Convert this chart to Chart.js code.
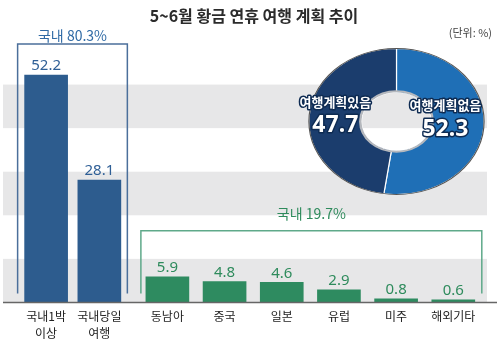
<!DOCTYPE html>
<html>
<head>
<meta charset="utf-8">
<script src="https://cdn.jsdelivr.net/npm/chart.js@4/dist/chart.umd.min.js"></script>
<style>
  body { margin: 0; background: #fff; }
  #wrap { position: relative; width: 500px; height: 352px; }
  #bars { position: absolute; left: 0; top: 0; }
  #pie { position: absolute; left: 290px; top: 38px; }
</style>
</head>
<body>
<div id="wrap">
  <canvas id="bars" width="500" height="352"></canvas>
  <canvas id="pie" width="210" height="170"></canvas>
</div>
<script>
const TITLE = "5~6월 황금 연휴 여행 계획 추이";
const UNIT = "(단위: %)";

const domesticLabels = [["국내1박", "이상"], ["국내당일", "여행"]];
const domesticValues = [52.2, 28.1];
const domesticTotal = "국내 80.3%";

const overseasLabels = ["동남아", "중국", "일본", "유럽", "미주", "해외기타"];
const overseasValues = [5.9, 4.8, 4.6, 2.9, 0.8, 0.6];
const overseasTotal = "국내 19.7%";

const planLabels = ["여행계획없음", "여행계획있음"];
const planValues = [52.3, 47.7];

// grey bands behind the bars, in axis units
const bandRanges = [[0, 10], [20, 30], [40, 50]];

const BLUE = "#2d5c8e";
const GREEN = "#2e8b60";
const FONT = "'Noto Sans CJK KR', 'Noto Sans', sans-serif";

Chart.defaults.font.family = FONT;

// BAR CHART DECORATIONS
const decor = {
  id: "decor",
  beforeDatasetsDraw(chart) {
    const ctx = chart.ctx;
    const y = chart.scales.y;
    ctx.save();
    ctx.fillStyle = "#e7e7e8";
    bandRanges.forEach(r => {
      const top = y.getPixelForValue(r[1]);
      const bottom = y.getPixelForValue(r[0]);
      ctx.fillRect(3, top, 484, bottom - top);
    });
    ctx.restore();
  },
  afterDatasetsDraw(chart) {
    const ctx = chart.ctx;
    const y0 = chart.scales.y.getPixelForValue(0);
    ctx.save();

    // baseline
    ctx.strokeStyle = "#666";
    ctx.lineWidth = 1.5;
    ctx.beginPath();
    ctx.moveTo(3, y0);
    ctx.lineTo(497, y0);
    ctx.stroke();

    // value labels
    const colors = ["#2f5f96", "#2e8b5c"];
    ctx.textAlign = "center";
    ctx.textBaseline = "middle";
    ctx.font = "15px 'Noto Sans', sans-serif";
    chart.data.datasets.forEach((ds, i) => {
      ctx.fillStyle = colors[i];
      chart.getDatasetMeta(i).data.forEach((bar, j) => {
        ctx.fillText(ds.data[j].toFixed(1), bar.x, bar.y - 9);
      });
    });

    // brackets
    function bracket(meta, color, lineColor, text, padL, padR, rise, textGap) {
      const bars = meta.data;
      const first = bars[0], last = bars[bars.length - 1];
      const left = first.x - first.width / 2 - padL;
      const right = last.x + last.width / 2 + padR;
      const top = Math.min(...bars.map(b => b.y)) - rise;
      const bottom = y0 - 9;
      ctx.strokeStyle = lineColor;
      ctx.lineWidth = 1.5;
      ctx.beginPath();
      ctx.moveTo(left, bottom);
      ctx.lineTo(left, top);
      ctx.lineTo(right, top);
      ctx.lineTo(right, bottom);
      ctx.stroke();
      ctx.fillStyle = color;
      ctx.font = "14px " + FONT;
      ctx.fillText(text, (left + right) / 2, top - textGap);
    }
    bracket(chart.getDatasetMeta(0), "#2f6aa5", "#4b6f9b", domesticTotal, 7, 6.5, 31, 8);
    bracket(chart.getDatasetMeta(1), "#2e8b5c", "#5fa98a", overseasTotal, 5, 7, 46, 17);

    // unit note
    ctx.fillStyle = "#444";
    ctx.textAlign = "right";
    ctx.font = "11px " + FONT;
    ctx.fillText(UNIT, 492, 33);
    ctx.restore();
  }
};

const tickFont = { size: 12, lineHeight: 1.42 };

new Chart(document.getElementById("bars"), {
  type: "bar",
  data: {
    datasets: [
      { data: domesticValues, xAxisID: "xd", yAxisID: "y", backgroundColor: BLUE, barThickness: 43, grouped: false },
      { data: overseasValues, xAxisID: "xo", yAxisID: "y", backgroundColor: GREEN, barThickness: 43, grouped: false }
    ]
  },
  options: {
    responsive: false,
    animation: false,
    layout: { padding: { left: 19.5, right: 11.5, top: 0, bottom: 5.5 } },
    plugins: {
      legend: { display: false },
      tooltip: { enabled: false },
      title: {
        display: true,
        text: TITLE,
        color: "#2b2b2b",
        font: { size: 16, weight: "bold", lineHeight: 1.275 },
        padding: { top: 6, bottom: 14.6 }
      }
    },
    scales: {
      xd: {
        type: "category", labels: domesticLabels, position: "bottom",
        stack: "x", stackWeight: 108, offset: true,
        grid: { display: false, drawTicks: false }, border: { display: false },
        ticks: { color: "#222", font: tickFont, padding: 5, maxRotation: 0, autoSkip: false }
      },
      xs: {
        type: "category", labels: [""], position: "bottom",
        stack: "x", stackWeight: 13, offset: true,
        grid: { display: false, drawTicks: false }, border: { display: false },
        ticks: { display: false }
      },
      xo: {
        type: "category", labels: overseasLabels, position: "bottom",
        stack: "x", stackWeight: 348, offset: true,
        grid: { display: false, drawTicks: false }, border: { display: false },
        ticks: { color: "#222", font: tickFont, padding: 5, maxRotation: 0, autoSkip: false }
      },
      y: { display: false, min: 0, max: 60 }
    }
  },
  plugins: [decor]
});

// DOUGHNUT
const SQUASH = 1.2;
const pieDecor = {
  id: "pieDecor",
  beforeDatasetsDraw(chart) {
    const a = chart.getDatasetMeta(0).data[0];
    const ctx = chart.ctx;
    ctx.save();
    ctx.translate(a.x, a.y);
    ctx.scale(SQUASH, 1);
    ctx.translate(-a.x, -a.y);
  },
  afterDatasetsDraw(chart) {
    const ctx = chart.ctx;
    const a = chart.getDatasetMeta(0).data[0];
    ctx.strokeStyle = "#555";
    ctx.lineWidth = 1;
    ctx.beginPath();
    ctx.arc(a.x, a.y, a.outerRadius, 0, Math.PI * 2);
    ctx.stroke();
    ctx.strokeStyle = "#b5b8bd";
    ctx.lineWidth = 2;
    ctx.beginPath();
    ctx.arc(a.x, a.y, a.innerRadius + 1, 0, Math.PI * 2);
    ctx.stroke();
    ctx.restore();

    // labels, pushed a little further out on the left side
    ctx.save();
    ctx.textAlign = "center";
    ctx.textBaseline = "middle";
    ctx.lineJoin = "round";
    chart.getDatasetMeta(0).data.forEach((arc, i) => {
      const c = arc.getCenterPoint();
      const k = c.x < a.x ? 1.0 : 0.8;
      const x = a.x + (c.x - a.x) * SQUASH * k;
      const y = a.y + (c.y - a.y) * 0.5 - 6;
      ctx.strokeStyle = "#0e2b52";
      ctx.lineWidth = 3;
      ctx.fillStyle = "#fff";
      ctx.font = "bold 13px " + FONT;
      ctx.strokeText(planLabels[i], x, y - 12);
      ctx.fillText(planLabels[i], x, y - 12);
      ctx.font = "bold 23px 'Noto Sans', sans-serif";
      ctx.strokeText(planValues[i].toFixed(1), x, y + 12);
      ctx.fillText(planValues[i].toFixed(1), x, y + 12);
    });
    ctx.restore();
  }
};

new Chart(document.getElementById("pie"), {
  type: "doughnut",
  data: {
    labels: planLabels,
    datasets: [{
      data: planValues,
      backgroundColor: ["#1f6fb6", "#1b3d6d"],
      borderColor: "#ffffff",
      borderWidth: 1
    }]
  },
  options: {
    responsive: false,
    animation: false,
    cutout: "40%",
    rotation: 0,
    layout: { padding: { left: 33, right: 30, top: 10, bottom: 13 } },
    plugins: { legend: { display: false }, tooltip: { enabled: false } }
  },
  plugins: [pieDecor]
});
</script>
</body>
</html>
